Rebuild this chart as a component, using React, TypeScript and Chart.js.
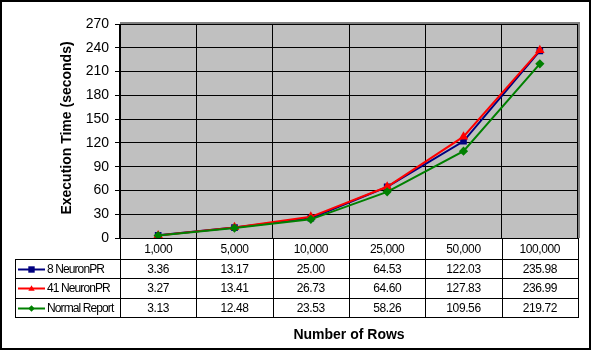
import React, { useEffect, useRef } from "react";
import { Chart, registerables } from "chart.js";

Chart.register(...registerables);

const categories = ["1,000", "5,000", "10,000", "25,000", "50,000", "100,000"];
const seriesNames = ["8 NeuronPR", "41 NeuronPR", "Normal Report"];
const neuron8 = [3.36, 13.17, 25.0, 64.53, 122.03, 235.98];
const neuron41 = [3.27, 13.41, 26.73, 64.6, 127.83, 236.99];
const normalReport = [3.13, 12.48, 23.53, 58.26, 109.56, 219.72];
const yTicks = [0, 30, 60, 90, 120, 150, 180, 210, 240, 270];
const yTitle = "Execution Time (seconds)";
const xTitle = "Number of Rows";

const FONT = "'Liberation Sans', Arial, sans-serif";
const colors = ["#000080", "#FF0000", "#008000"];
const styles = ["rect", "triangle", "rectRot"];
const radii = [4.7, 5.5, 4.6];

function drawMarker(ctx: CanvasRenderingContext2D, style: string, x: number, y: number, r: number, color: string) {
  ctx.save();
  ctx.fillStyle = color;
  ctx.beginPath();
  if (style === "rect") {
    ctx.rect(x - r, y - r, 2 * r, 2 * r);
  } else if (style === "triangle") {
    ctx.moveTo(x, y - r);
    ctx.lineTo(x + r, y + r * 0.7);
    ctx.lineTo(x - r, y + r * 0.7);
    ctx.closePath();
  } else {
    ctx.moveTo(x, y - r);
    ctx.lineTo(x + r, y);
    ctx.lineTo(x, y + r);
    ctx.lineTo(x - r, y);
    ctx.closePath();
  }
  ctx.fill();
  ctx.restore();
}

export default function App() {
  const ref = useRef<HTMLCanvasElement | null>(null);

  useEffect(() => {
    const canvas = ref.current;
    if (!canvas) return;
    const data = [neuron8, neuron41, normalReport];

    const framePlugin = {
      id: "frame",
      beforeDraw(chart: any) {
        const { ctx, chartArea } = chart;
        ctx.save();
        ctx.fillStyle = "#FFFFFF";
        ctx.fillRect(0, 0, chart.width, chart.height);
        ctx.fillStyle = "#C0C0C0";
        ctx.fillRect(chartArea.left, chartArea.top, chartArea.right - chartArea.left, chartArea.bottom - chartArea.top);
        ctx.restore();
      },
      afterDraw(chart: any) {
        const { ctx, chartArea } = chart;
        const xs = chart.scales.x;
        const L = chartArea.left;
        const R = chartArea.right;
        const T = chartArea.top;
        const B = chartArea.bottom;
        const n = categories.length;
        const w = (R - L) / n;
        ctx.save();
        // plot border (gray top/right)
        ctx.strokeStyle = "#808080";
        ctx.lineWidth = 2;
        ctx.beginPath();
        ctx.moveTo(L, T - 1);
        ctx.lineTo(R + 1, T - 1);
        ctx.lineTo(R + 1, B);
        ctx.stroke();

        // table
        const rowYs = [B, 259, 278, 298, 317];
        const tableLeft = 15;
        ctx.strokeStyle = "#000000";
        ctx.lineWidth = 1;
        ctx.beginPath();
        for (let i = 1; i < rowYs.length; i++) {
          ctx.moveTo(tableLeft, Math.round(rowYs[i]) + 0.5);
          ctx.lineTo(R + 1, Math.round(rowYs[i]) + 0.5);
        }
        ctx.moveTo(tableLeft + 0.5, rowYs[1]);
        ctx.lineTo(tableLeft + 0.5, rowYs[4] + 1);
        for (let k = 0; k <= n; k++) {
          const x = Math.round(L + k * w) + 0.5;
          ctx.moveTo(x, B);
          ctx.lineTo(x, rowYs[4] + 1);
        }
        ctx.stroke();

        ctx.fillStyle = "#000000";
        ctx.textAlign = "center";
        ctx.textBaseline = "middle";
        ctx.font = `12px ${FONT}`;
        (ctx as any).letterSpacing = "-0.4px";
        for (let i = 0; i < n; i++) {
          const cx = xs.getPixelForValue(i);
          ctx.fillText(categories[i], cx, (rowYs[0] + rowYs[1]) / 2 + 1);
          for (let s = 0; s < 3; s++) {
            const cy = (rowYs[s + 1] + rowYs[s + 2]) / 2 + 1;
            ctx.fillText(data[s][i].toFixed(2), cx, cy);
          }
        }
        // legend column
        ctx.textAlign = "left";
        ctx.font = `12px ${FONT}`;
        (ctx as any).letterSpacing = "-0.9px";
        for (let s = 0; s < 3; s++) {
          const cy = Math.round((rowYs[s + 1] + rowYs[s + 2]) / 2) + 0.5;
          ctx.strokeStyle = colors[s];
          ctx.lineWidth = 2;
          ctx.beginPath();
          ctx.moveTo(18, cy);
          ctx.lineTo(45, cy);
          ctx.stroke();
          drawMarker(ctx, styles[s], 31.5, cy, 3.2, colors[s]);
          ctx.fillStyle = "#000000";
          ctx.fillText(seriesNames[s], 47, cy + 0.5);
        }
        (ctx as any).letterSpacing = "0px";

        // titles
        ctx.font = `bold 14px ${FONT}`;
        ctx.textAlign = "center";
        ctx.textBaseline = "middle";
        ctx.fillText(xTitle, (L + R) / 2, 335);
        ctx.save();
        ctx.translate(67, 128);
        ctx.rotate(-Math.PI / 2);
        ctx.fillText(yTitle, 0, 0);
        ctx.restore();

        // outer border
        ctx.strokeStyle = "#000000";
        ctx.lineWidth = 2;
        ctx.strokeRect(1, 1, 589, 348);
        ctx.restore();
      },
    };

    const chart = new Chart(canvas, {
      type: "line",
      data: {
        labels: categories,
        datasets: data.map((d, s) => ({
          label: seriesNames[s],
          data: d,
          borderColor: colors[s],
          backgroundColor: colors[s],
          borderWidth: 2,
          pointStyle: styles[s] as any,
          pointRadius: radii[s],
          pointBorderWidth: 0,
          pointBackgroundColor: colors[s],
          tension: 0,
          order: 2 - s,
          fill: false,
        })),
      },
      options: {
        responsive: false,
        animation: false,
        events: [],
        layout: { padding: { left: 0, top: 24, right: 15, bottom: 113 } },
        plugins: {
          legend: { display: false },
          tooltip: { enabled: false },
          title: { display: false },
        },
        scales: {
          x: {
            type: "category",
            offset: true,
            grid: { offset: true, color: "#000000", lineWidth: 1, drawTicks: false },
            border: { display: true, color: "#000000", width: 1 },
            ticks: { display: false },
            afterFit(s: any) {
              s.height = 0;
            },
          },
          y: {
            min: 0,
            max: 270,
            afterBuildTicks(s: any) {
              s.ticks = yTicks.map((v) => ({ value: v }));
            },
            grid: { color: "#000000", lineWidth: 1, tickLength: 5 },
            border: { display: true, color: "#000000", width: 1 },
            ticks: {
              color: "#000000",
              font: { family: FONT, size: 14 },
              padding: 6,
            },
            afterFit(s: any) {
              s.width = 120;
            },
          },
        },
      },
      plugins: [framePlugin],
    });
    return () => chart.destroy();
  }, []);

  return (
    <>
      <style>{"body{margin:0;}"}</style>
      <canvas ref={ref} width={593} height={351} style={{ display: "block" }} />
    </>
  );
}
